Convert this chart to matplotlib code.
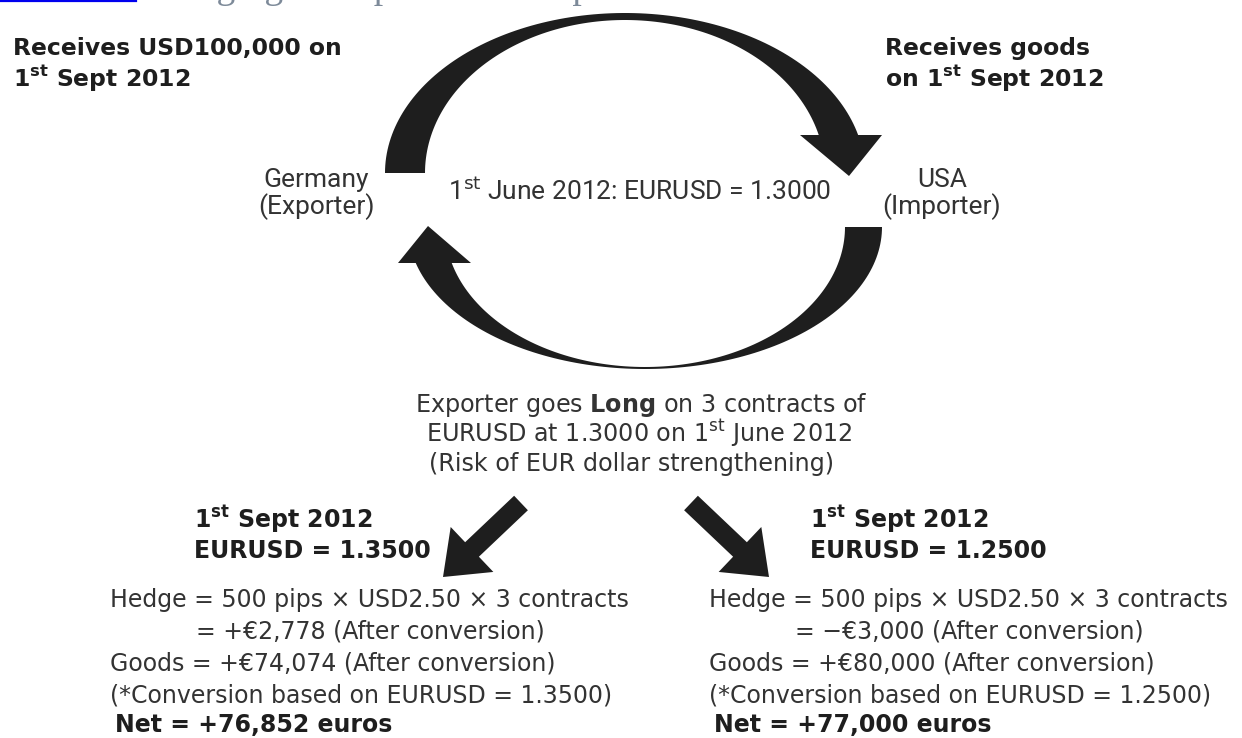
import numpy as np
import matplotlib
matplotlib.use("Agg")
import matplotlib.pyplot as plt
from matplotlib.patches import Polygon, FancyArrow

plt.rcParams['font.family'] = ['DejaVu Sans']
plt.rcParams['mathtext.fontset'] = 'custom'
plt.rcParams['mathtext.rm'] = 'DejaVu Sans'
plt.rcParams['mathtext.bf'] = 'DejaVu Sans:bold'

# values shown in the diagram
spot_june = "1.3000"
contracts = 3
pips = 500
pip_value = "USD2.50"
receivable = "USD100,000"
sept_rates = ["1.3500", "1.2500"]
hedge_eur = ["+€2,778", "−€3,000"]
goods_eur = ["+€74,074", "+€80,000"]
net_eur = ["+76,852", "+77,000"]

ink = '#1e1e1e'
body = '#333333'

fig = plt.figure(figsize=(12.42, 7.38), dpi=100)
ax = fig.add_axes([0, 0, 1, 1])
ax.set_xlim(0, 1242)
ax.set_ylim(738, 0)
ax.axis('off')

# cut-off heading of the page above the figure
ax.plot([0, 136], [0.8, 0.8], color='#0000ee', lw=1.6)
ax.text(154, -2.5, "Hedging example for the exporter", family='Liberation Serif',
        fontsize=27, color='#7d8a99', va='baseline')


def ell(cx, cy, a, b, t0, t1, sign, n=120):
    t = np.linspace(t0, t1, n)
    return np.column_stack([cx + a * np.cos(t), cy + sign * b * np.sin(t)])


# upper arc: Germany -> USA
cx, cy = 625, 173
to = np.arcsin((cy - 135) / 160)
ti = np.arcsin((cy - 135) / 153)
outer = ell(cx, cy, 240, 160, np.pi, to, -1)
inner = ell(cx, cy, 200, 153, ti, np.pi, -1)
head = np.array([[882, 135], [849, 176], [800, 135]])
ax.add_patch(Polygon(np.vstack([outer, head, inner]), closed=True, color=ink, lw=0))

# lower arc: USA -> Germany
cx, cy = 645, 227
to = np.pi - np.arcsin(36 / 142)
ti = np.pi - np.arcsin(36 / 140)
outer = ell(cx, cy, 237, 142, 0, to, 1)
inner = ell(cx, cy, 200, 140, ti, 0, 1)
head = np.array([[398, 263], [428, 226], [471, 263]])
ax.add_patch(Polygon(np.vstack([outer, head, inner]), closed=True, color=ink, lw=0))

# scenario arrows
ax.add_patch(FancyArrow(521, 503, -78, 74, width=20, head_width=62, head_length=40,
                        length_includes_head=True, color=ink, lw=0))
ax.add_patch(FancyArrow(691, 503, 78, 74, width=20, head_width=62, head_length=40,
                        length_includes_head=True, color=ink, lw=0))

# top headings
ax.text(13, 55, "Receives " + receivable + " on", fontsize=16.9, weight='bold', color=ink)
ax.text(13, 86, r"1$^{\mathbf{st}}$ Sept 2012", fontsize=16.9, weight='bold', color=ink)
ax.text(885, 55, "Receives goods", fontsize=16.9, weight='bold', color=ink)
ax.text(885, 86, r"on 1$^{\mathbf{st}}$ Sept 2012", fontsize=16.9, weight='bold', color=ink)

# circle labels
lab = dict(family='Roboto', fontsize=19, color=body, ha='center', va='baseline')
ax.text(316, 187, "Germany", **lab)
ax.text(317, 214, "(Exporter)", **lab)
ax.text(942, 187, "USA", **lab)
ax.text(942, 214, "(Importer)", **lab)
ax.text(640, 200, r"1$^{\mathrm{st}}$ June 2012: EURUSD = " + spot_june, **lab)

# hedge description
mid = dict(fontsize=17.2, color=body, ha='center', va='baseline')
ax.text(641, 412, r"Exporter goes $\mathbf{Long}$ on %d contracts of" % contracts, **mid)
ax.text(639, 442, r"EURUSD at %s on 1$^{\mathrm{st}}$ June 2012" % spot_june, **mid)
ax.text(632, 471, "(Risk of EUR dollar strengthening)", **mid)

# two scenarios
for x0, x1, rate, h, g, n in zip([110, 709], [194, 810], sept_rates, hedge_eur, goods_eur, net_eur):
    ax.text(x1, 528, r"1$^{\mathbf{st}}$ Sept 2012", fontsize=17, weight='bold', color=ink)
    ax.text(x1, 558, "EURUSD = " + rate, fontsize=17, weight='bold', color=ink)
    ax.text(x0, 607, "Hedge = %d pips × %s × %d contracts" % (pips, pip_value, contracts),
            fontsize=17, color=body)
    ax.text(x0 + 86, 638, "= " + h + " (After conversion)", fontsize=17, color=body)
    ax.text(x0, 670, "Goods = " + g + " (After conversion)", fontsize=17, color=body)
    ax.text(x0, 702, "(*Conversion based on EURUSD = " + rate + ")", fontsize=17, color=body)
    ax.text(x0 + 5, 732, "Net = " + n + " euros", fontsize=17, weight='bold', color=ink)

fig.savefig("out.png", dpi=100, facecolor='white')
